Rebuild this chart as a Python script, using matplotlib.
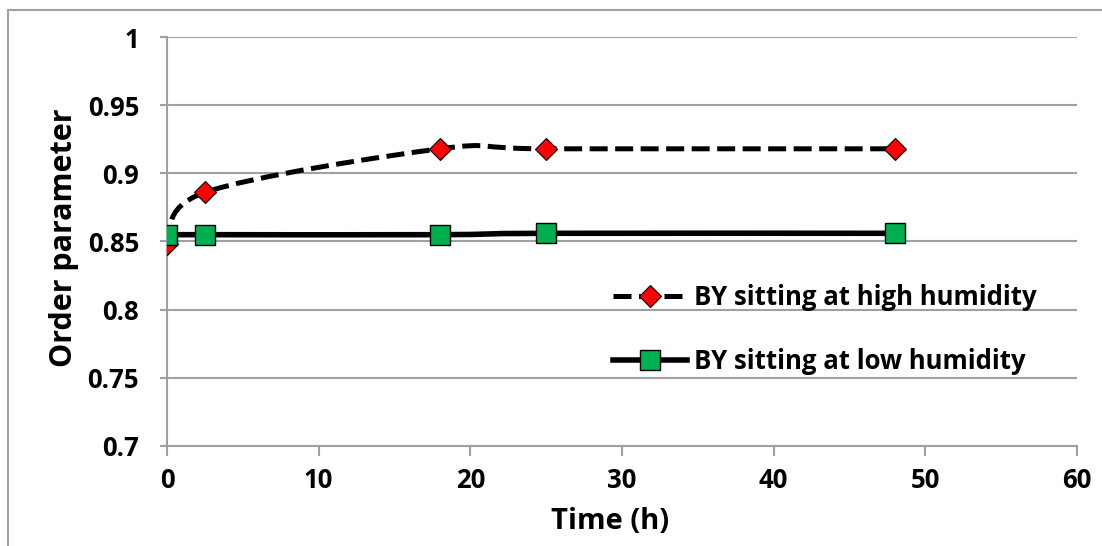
import matplotlib.pyplot as plt
from matplotlib.path import Path
from matplotlib.patches import PathPatch, Rectangle
from matplotlib.lines import Line2D

plt.rcParams['font.family'] = ['Open Sans', 'DejaVu Sans']
plt.rcParams['font.weight'] = 'bold'

# data
time_h = [0, 2.5, 18, 25, 48]
high_humidity = [0.848, 0.886, 0.918, 0.918, 0.918]
low_humidity = [0.855, 0.855, 0.855, 0.856, 0.856]
x_ticks = [0, 10, 20, 30, 40, 50, 60]
y_ticks = [0.7, 0.75, 0.8, 0.85, 0.9, 0.95, 1]
y_labels = ['0.7', '0.75', '0.8', '0.85', '0.9', '0.95', '1']


def smooth_path(xs, ys):
    # Excel-like smoothed line: cubic bezier segments (catmull-rom control points)
    verts = [(xs[0], ys[0])]
    codes = [Path.MOVETO]
    n = len(xs)
    for i in range(n - 1):
        x0, y0 = (xs[i - 1], ys[i - 1]) if i > 0 else (xs[i], ys[i])
        x1, y1 = xs[i], ys[i]
        x2, y2 = xs[i + 1], ys[i + 1]
        x3, y3 = (xs[i + 2], ys[i + 2]) if i + 2 < n else (x2, y2)
        c1 = (x1 + (x2 - x0) / 6, y1 + (y2 - y0) / 6)
        c2 = (x2 - (x3 - x1) / 6, y2 - (y3 - y1) / 6)
        verts += [c1, c2, (x2, y2)]
        codes += [Path.CURVE4] * 3
    return Path(verts, codes)


dash = (0, (3.6, 1.5))

fig = plt.figure(figsize=(11.02, 5.46), dpi=100)
ax = fig.add_axes([0.1515, 0.1832, 0.8258, 0.749])

ax.add_patch(PathPatch(smooth_path(time_h, high_humidity), fill=False,
                       edgecolor='black', lw=3.6, linestyle=dash, zorder=3))
ax.add_patch(PathPatch(smooth_path(time_h, low_humidity), fill=False,
                       edgecolor='black', lw=4, zorder=3))
ax.plot(time_h, high_humidity, linestyle='none', marker='D', ms=11,
        mfc='red', mec='black', mew=0.8, zorder=4)
ax.plot(time_h, low_humidity, linestyle='none', marker='s', ms=14.5,
        mfc='#00b050', mec='black', mew=1, zorder=5)

ax.set_xlim(0, 60)
ax.set_ylim(0.7, 1)
ax.set_xticks(x_ticks)
ax.set_yticks(y_ticks)
ax.set_yticklabels(y_labels)
ax.grid(axis='y', color='#a0a0a0', lw=1.5)
ax.set_axisbelow(True)
for s in ['top', 'right']:
    ax.spines[s].set_visible(False)
for s in ['left', 'bottom']:
    ax.spines[s].set_color('#a0a0a0')
    ax.spines[s].set_linewidth(1.5)
ax.tick_params(axis='both', color='#a0a0a0', width=1.5, labelsize=18.5)
ax.tick_params(axis='y', length=5, pad=15)
ax.tick_params(axis='x', length=7, pad=8)
for lab in ax.get_xticklabels() + ax.get_yticklabels():
    lab.set_fontweight('bold')
ax.set_xlabel('Time (h)', fontsize=21, fontweight='bold')
ax.set_ylabel('Order parameter', fontsize=22, fontweight='bold')
ax.xaxis.set_label_coords(0.487, -0.15)
ax.yaxis.set_label_coords(-0.097, 0.509)

handles = [
    Line2D([], [], color='black', lw=3.6, linestyle=dash, marker='D',
           ms=11, mfc='red', mec='black', mew=0.8),
    Line2D([], [], color='black', lw=4, marker='s', ms=14.5,
           mfc='#00b050', mec='black', mew=1),
]
ax.legend(handles, ['BY sitting at high humidity', 'BY sitting at low humidity'],
          loc='upper left', bbox_to_anchor=(0.535, 0.522),
          bbox_transform=fig.transFigure, frameon=False,
          prop={'size': 18.5, 'weight': 'bold'},
          labelspacing=1.45, handlelength=2.9, handletextpad=0.25)

# outer chart frame
fig.add_artist(Rectangle((8 / 1102, -0.1), 1.2, 1 - 10 / 546 + 0.1,
                         transform=fig.transFigure, fill=False,
                         edgecolor='#a0a0a0', lw=1.5))

fig.savefig('out.png', dpi=100)
